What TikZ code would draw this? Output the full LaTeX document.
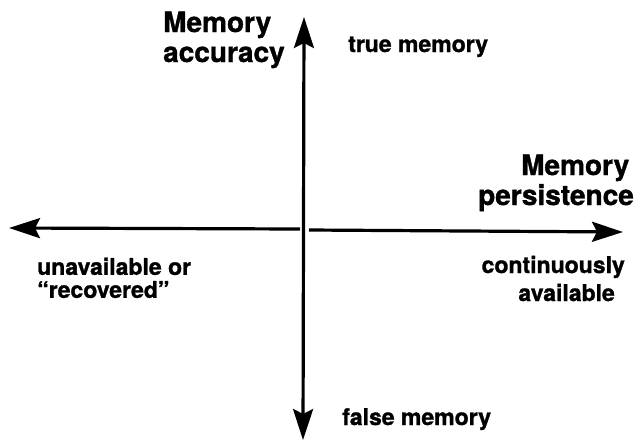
\documentclass[tikz,border=0pt]{standalone}
\usepackage{fontspec}
\setmainfont{TeX Gyre Heros}[BoldFeatures={FakeBold=1.2}]
\usetikzlibrary{arrows.meta}
\tikzset{axtip/.tip={Stealth[length=31pt,width=20pt,inset=5pt]}}
\begin{document}
\begin{tikzpicture}[x=1pt,y=-1pt,
  axis/.style={line width=3.2pt},
  big/.style={font=\fontsize{28}{30}\selectfont\bfseries, inner sep=0pt},
  small/.style={font=\fontsize{23}{23}\selectfont\bfseries, inner sep=0pt}]
\useasboundingbox (0,0) rectangle (638,440);

% axis end points
\coordinate (vtop) at (304,17);
\coordinate (vbot) at (303,440);
\coordinate (lstart) at (300,229);
\coordinate (ltip) at (9,228);
\coordinate (rstart) at (309,230);
\coordinate (rtip) at (623,232);

% axes
\draw[axis, axtip-axtip] (vbot) -- (vtop);
\draw[axis, -axtip] (lstart) -- (ltip);
\draw[axis, -axtip] (rstart) -- (rtip);

% axis titles
\node[big, anchor=base west] (accA) at (163,32) {Memory};
\node[big, anchor=base west] (accB) at (163,62) {accuracy};
\node[big, anchor=base west] (perA) at (521,175) {Memory};
\node[big, anchor=base west] (perB) at (478,205) {persistence};

% end labels
\node[small, anchor=base west] (tm) at (348,52) {true memory};
\node[small, anchor=base west] (fm) at (342,425) {false memory};
\node[small, anchor=north west, align=left] (un) at (37,257.5)
  {unavailable or\\“recovered”};
\node[small, anchor=base east] (coA) at (625,273) {continuously};
\node[small, anchor=base east] (coB) at (615,301) {available};
\end{tikzpicture}
\end{document}
